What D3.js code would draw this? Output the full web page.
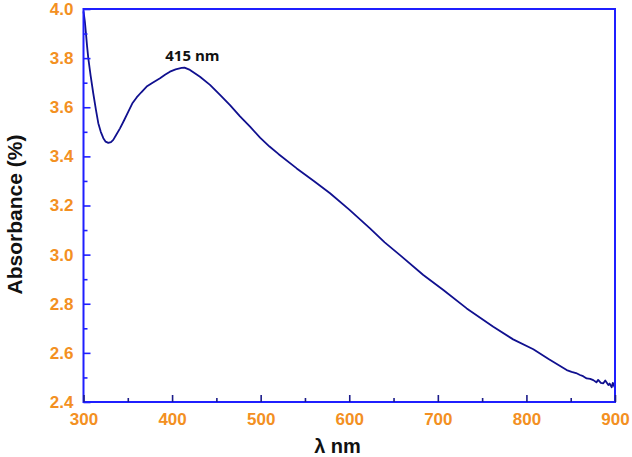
<!DOCTYPE html>
<html>
<head>
<meta charset="utf-8">
<script src="https://unpkg.com/d3@7/dist/d3.min.js"></script>
<style>
  body { margin: 0; background: #fff; }
  svg { display: block; }
</style>
</head>
<body>
<div id="wrapper"></div>
<script>
// wavelength (nm) and absorbance
const wavelengths = [300, 301.5, 302.8, 304, 305.4, 308, 311, 314, 316.7, 319.5, 322.4, 325, 328, 331, 333.6, 337,
  341.2, 346, 350.6, 355, 360, 365, 371.3, 378, 386.4, 392, 397.6, 404, 410.8, 414, 420.2, 431.5, 442.8, 454.1,
  465.4, 476.7, 488, 499.3, 510, 520, 540.7, 560, 578.3, 600, 623.4, 640, 657.3, 683.6, 706.2, 732.6, 762.6, 785,
  807.8, 825, 845.5, 851, 856, 860.5, 864, 868, 872, 875.5, 879, 881, 884, 886.8, 889, 892.5, 894, 896.3,
  897.5, 899.3, 900]
const absorbance = [3.99, 3.95, 3.90, 3.85, 3.80, 3.73, 3.657, 3.59, 3.535, 3.50, 3.474, 3.460, 3.455, 3.458, 3.467, 3.488,
  3.514, 3.548, 3.582, 3.615, 3.640, 3.660, 3.684, 3.700, 3.718, 3.732, 3.745, 3.754, 3.760, 3.761, 3.752, 3.724, 3.691, 3.650,
  3.609, 3.563, 3.521, 3.476, 3.440, 3.410, 3.351, 3.300, 3.250, 3.183, 3.107, 3.050, 2.998, 2.917, 2.856, 2.781, 2.706, 2.655,
  2.615, 2.575, 2.530, 2.523, 2.518, 2.510, 2.505, 2.496, 2.494, 2.489, 2.480, 2.490, 2.478, 2.476, 2.488, 2.469, 2.475, 2.460,
  2.478, 2.462, 2.485]

const xMajorTicks = [300, 400, 500, 600, 700, 800, 900]
const xMinorTicks = [350, 450, 550, 650, 750, 850]
const yMajorTicks = [2.4, 2.6, 2.8, 3.0, 3.2, 3.4, 3.6, 3.8, 4.0]
const yMinorTicks = [2.5, 2.7, 2.9, 3.1, 3.3, 3.5, 3.7, 3.9]

const peakLabel = "415 nm"
const peakAt = [415, 3.79]

const data = wavelengths.map((w, i) => ({ w: w, a: absorbance[i] }))

const xAccessor = d => d.w
const yAccessor = d => d.a

let dimensions = {
  width: 632,
  height: 457,
  margins: { top: 9, right: 17, bottom: 55, left: 83.5 },
}
dimensions.boundedWidth = dimensions.width - dimensions.margins.left - dimensions.margins.right
dimensions.boundedHeight = dimensions.height - dimensions.margins.top - dimensions.margins.bottom

const frameColor = "#1f1fff"
const labelColor = "#f39022"
const lineColor = "#10108f"

const wrapper = d3.select("#wrapper")
  .append("svg")
    .attr("width", dimensions.width)
    .attr("height", dimensions.height)

const bounds = wrapper.append("g")
    .attr("transform", `translate(${dimensions.margins.left}, ${dimensions.margins.top})`)

const xScale = d3.scaleLinear()
  .domain([300, 900])
  .range([0, dimensions.boundedWidth])

const yScale = d3.scaleLinear()
  .domain([2.4, 4.0])
  .range([dimensions.boundedHeight, 0])

// Data line
const lineGenerator = d3.line()
    .x(d => xScale(xAccessor(d)))
    .y(d => yScale(yAccessor(d)))

bounds.append("path")
    .attr("d", lineGenerator(data))
    .attr("fill", "none")
    .attr("stroke", lineColor)
    .attr("stroke-width", 1.8)
    .attr("stroke-linejoin", "round")

// Frame
bounds.append("rect")
    .attr("width", dimensions.boundedWidth)
    .attr("height", dimensions.boundedHeight)
    .attr("fill", "none")
    .attr("stroke", frameColor)
    .attr("stroke-width", 2)

// Axes
const yAxis = bounds.append("g")
    .call(d3.axisLeft(yScale).tickValues(yMajorTicks).tickFormat(d3.format(".1f")).tickSize(-7).tickPadding(10))
yAxis.select(".domain").remove()
yAxis.selectAll(".tick line").attr("stroke", frameColor).attr("stroke-width", 1.6)
yAxis.selectAll(".tick text")
    .attr("fill", labelColor)
    .style("font", "bold 17px 'Liberation Sans', Arial, sans-serif")

bounds.append("g")
    .call(d3.axisLeft(yScale).tickValues(yMinorTicks).tickFormat("").tickSize(-4))
    .call(g => g.select(".domain").remove())
    .selectAll(".tick line").attr("stroke", frameColor).attr("stroke-width", 1.6)

const xAxis = bounds.append("g")
    .attr("transform", `translate(0, ${dimensions.boundedHeight})`)
    .call(d3.axisBottom(xScale).tickValues(xMajorTicks).tickSize(-7).tickPadding(11))
xAxis.select(".domain").remove()
xAxis.selectAll(".tick line").attr("stroke", "#1c1c8a").attr("stroke-width", 1.6)
xAxis.selectAll(".tick text")
    .attr("fill", labelColor)
    .style("font", "bold 17px 'Liberation Sans', Arial, sans-serif")

bounds.append("g")
    .attr("transform", `translate(0, ${dimensions.boundedHeight})`)
    .call(d3.axisBottom(xScale).tickValues(xMinorTicks).tickFormat("").tickSize(-4))
    .call(g => g.select(".domain").remove())
    .selectAll(".tick line").attr("stroke", "#1c1c8a").attr("stroke-width", 1.6)

// Axis titles
wrapper.append("text")
    .attr("transform", `translate(22, ${dimensions.margins.top + dimensions.boundedHeight / 2 + 9}) rotate(-90)`)
    .attr("text-anchor", "middle")
    .attr("fill", "#111")
    .style("font", "bold 21px 'Liberation Sans', Arial, sans-serif")
    .text("Absorbance (%)")

wrapper.append("text")
    .attr("x", 337.5)
    .attr("y", 453)
    .attr("text-anchor", "middle")
    .attr("fill", "#111")
    .style("font", "bold 20px 'Liberation Sans', Arial, sans-serif")
    .text("λ nm")

// Peak annotation
bounds.append("text")
    .attr("x", xScale(peakAt[0]) + 7)
    .attr("y", yScale(peakAt[1]))
    .attr("text-anchor", "middle")
    .attr("fill", "#111")
    .style("font", "bold 15px 'Open Sans', 'Noto Sans', sans-serif")
    .text(peakLabel)
</script>
</body>
</html>
